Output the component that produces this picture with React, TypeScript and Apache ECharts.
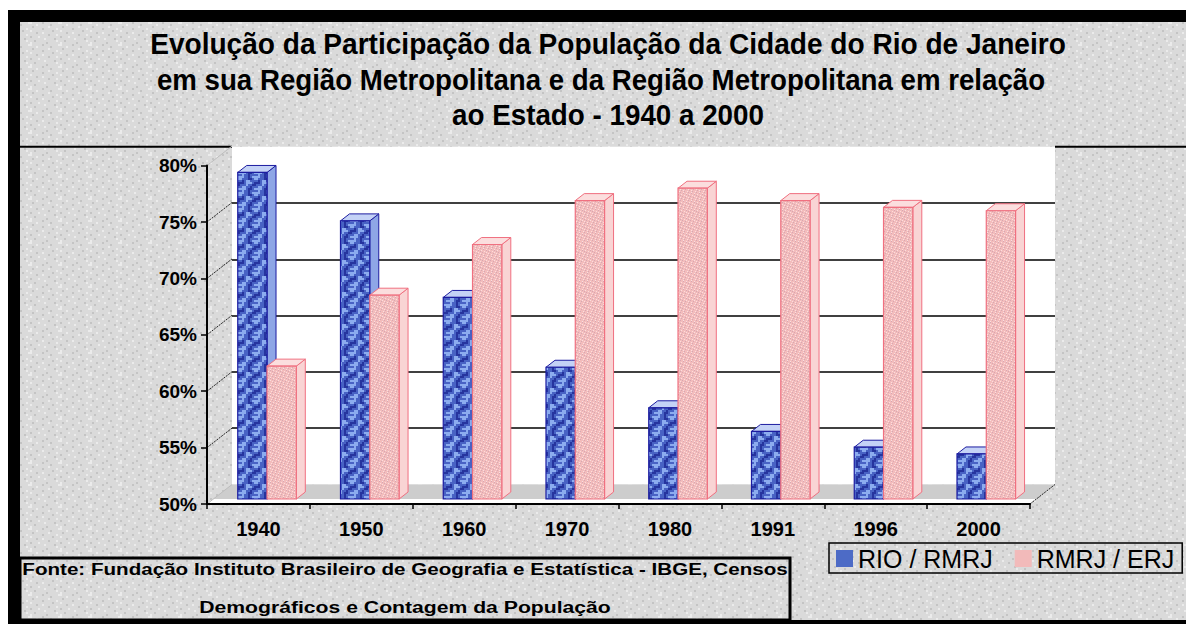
import React, { useEffect, useRef } from "react";
import * as echarts from "echarts";

// ---- data ----
const years = ["1940", "1950", "1960", "1970", "1980", "1991", "1996", "2000"];
const rioRmrj = [79.0, 74.7, 67.9, 61.7, 58.1, 56.0, 54.6, 54.0];
const rmrjErj = [61.8, 68.1, 72.6, 76.5, 77.6, 76.5, 75.9, 75.6];
const seriesNames = ["RIO / RMRJ", "RMRJ / ERJ"];
const yMin = 50;
const yMax = 80;
const yStep = 5;
const titleLines = [
  "Evolução da Participação da População da Cidade do Rio de Janeiro",
  "em sua Região Metropolitana e da Região Metropolitana em relação",
  "ao Estado - 1940 a 2000",
];
const sourceLines = [
  "Fonte: Fundação Instituto Brasileiro de Geografia e Estatística - IBGE, Censos",
  "Demográficos e Contagem da População",
];

const FAMILY = '"Liberation Sans", Arial, sans-serif';

// fixed hand-drawn texture tiles (decoration only)
const BLUE_TILE = [
  "LL..D.LL",
  "L...DD.L",
  ".D.LL...",
  "DD.LLL.D",
  "...L..DD",
  ".LL..D..",
  "LLL.DD.L",
  ".L..D...",
];
const PINK_TILE = [
  "G..W....",
  "...G..W.",
  ".W....G.",
  "G...W...",
  "..G...W.",
  "W....G..",
  ".G.W....",
  "....G..W",
];
const BG_TILE = [
  "W.....D.......W",
  "...W......D....",
  ".D.......W.....",
  "......D......W.",
  "W..........D...",
  "...D..W........",
  ".........D...W.",
  "D...W..........",
  ".......W....D..",
  "..D..........W.",
  "W.......D......",
];

function makeTile(rows: string[], colors: Record<string, string>, cell: number) {
  const h = rows.length;
  const w = rows[0].length;
  const c = document.createElement("canvas");
  c.width = w * cell;
  c.height = h * cell;
  const ctx = c.getContext("2d");
  if (!ctx) return null;
  for (let r = 0; r < h; r++) {
    for (let q = 0; q < w; q++) {
      ctx.fillStyle = colors[rows[r][q]] || colors["."];
      ctx.fillRect(q * cell, r * cell, cell, cell);
    }
  }
  return { image: c.toDataURL(), repeat: "repeat", imageWidth: c.width, imageHeight: c.height };
}

function measure(text: string, font: string): number {
  const c = document.createElement("canvas");
  const ctx = c.getContext("2d");
  if (!ctx) return 0;
  ctx.font = font;
  return ctx.measureText(text).width;
}

function fitText(
  text: string,
  size: number,
  weight: string,
  target: number,
  x: number,
  y: number,
  align: string
) {
  const w = measure(text, `${weight} ${size}px "Liberation Sans"`);
  const s = w > 0 ? target / w : 1;
  return {
    type: "text",
    x,
    y,
    scaleX: s,
    z: 5,
    style: {
      text,
      fontSize: size,
      fontWeight: weight,
      fontFamily: FAMILY,
      fill: "#000",
      textAlign: align,
      textVerticalAlign: "middle",
      align,
      verticalAlign: "middle",
    },
  };
}

// geometry of the pseudo-3D frame
const FRONT = { left: 207, right: 1030, top: 165.6, bottom: 504 };
const BACK = { left: 232, right: 1055, top: 146.7, bottom: 484.5 };
const PLANE = { left: 217.5, right: 1039.5, top: 161.2, bottom: 499 };
const W = 1186;
const H = 624;

export default function App() {
  const ref = useRef<HTMLDivElement>(null);
  useEffect(() => {
    if (!ref.current) return;
    const chart = echarts.init(ref.current, null, { renderer: "svg" });

    const bluePat =
      makeTile(BLUE_TILE, { ".": "#4862c4", L: "#8cacef", D: "#26349e" }, 2) || "#4d6bc6";
    const pinkPat =
      makeTile(PINK_TILE, { ".": "#f3bcbc", G: "#d6a8b2", W: "#fcdede" }, 1) || "#f2baba";
    const bgPat =
      makeTile(BG_TILE, { ".": "#dadada", W: "#ebebeb", D: "#c4c4c4" }, 2) || "#d9d9d9";

    const styles = [
      { front: bluePat, top: "#c4d2f6", side: "#8ea6e6", edge: "#1c1ca0" },
      { front: pinkPat, top: "#fbdede", side: "#f9d4d4", edge: "#f07080" },
    ];

    const makeRender = (si: number) => (params: any, api: any) => {
      const ci = api.value(0);
      const v = api.value(1);
      const topPt = api.coord([ci, v]);
      const basePt = api.coord([ci, yMin]);
      const band = api.size([1, 0])[0];
      const bw = band * 0.285;
      const x0 = topPt[0] + band * (si === 0 ? -0.303 : -0.018);
      const x1 = x0 + bw;
      const yt = topPt[1];
      const yb = basePt[1];
      const dx = 9;
      const dy = -7;
      const st = styles[si];
      return {
        type: "group",
        children: [
          {
            type: "polygon",
            shape: { points: [[x1, yb], [x1 + dx, yb + dy], [x1 + dx, yt + dy], [x1, yt]] },
            style: { fill: st.side, stroke: st.edge, lineWidth: 1 },
          },
          {
            type: "polygon",
            shape: { points: [[x0, yt], [x1, yt], [x1 + dx, yt + dy], [x0 + dx, yt + dy]] },
            style: { fill: st.top, stroke: st.edge, lineWidth: 1 },
          },
          {
            type: "rect",
            shape: { x: x0, y: yt, width: bw, height: yb - yt },
            style: { fill: st.front, stroke: st.edge, lineWidth: 1.2 },
          },
        ],
      };
    };

    const ticks: number[] = [];
    for (let t = yMin; t <= yMax; t += yStep) ticks.push(t);
    const frontScale = (FRONT.bottom - FRONT.top) / (yMax - yMin);
    const ddx = BACK.left - FRONT.left;
    const ddy = BACK.bottom - FRONT.bottom;

    const connectors = ticks.map((t) => {
      const yF = FRONT.bottom - (t - yMin) * frontScale;
      const edge = t === yMin || t === yMax;
      return {
        type: "line",
        z: 1,
        shape: { x1: FRONT.left, y1: yF, x2: FRONT.left + ddx, y2: yF + ddy },
        style: { stroke: edge ? "#bdbdbd" : "#222", lineWidth: 1, lineDash: edge ? null : [2, 1] },
      };
    });

    const graphics: any[] = [
      { type: "rect", z: -10, shape: { x: 0, y: 0, width: W, height: H }, style: { fill: bgPat } },
      { type: "rect", z: 0, shape: { x: 0, y: 0, width: W, height: 10 }, style: { fill: "#fff" } },
      { type: "rect", z: 0, shape: { x: 0, y: 0, width: 8, height: H }, style: { fill: "#fff" } },
      { type: "rect", z: 0, shape: { x: 8, y: 10, width: W - 8, height: 12 }, style: { fill: "#000" } },
      { type: "rect", z: 0, shape: { x: 8, y: 10, width: 12, height: H - 10 }, style: { fill: "#000" } },
      { type: "rect", z: 0, shape: { x: 8, y: 620, width: W - 8, height: 4 }, style: { fill: "#000" } },
      // title box bottom line
      { type: "line", z: 0, shape: { x1: 20, y1: 146.7, x2: BACK.left, y2: 146.7 }, style: { stroke: "#000", lineWidth: 2 } },
      { type: "line", z: 0, shape: { x1: BACK.right, y1: 146.7, x2: W, y2: 146.7 }, style: { stroke: "#000", lineWidth: 2 } },
      // floor
      {
        type: "polygon",
        z: 1,
        shape: {
          points: [
            [BACK.left, BACK.bottom],
            [BACK.right, BACK.bottom],
            [FRONT.right + 6, PLANE.bottom],
            [FRONT.left + 6, PLANE.bottom],
          ],
        },
        style: { fill: "#cdcdcd" },
      },
      {
        type: "polygon",
        z: 1,
        shape: {
          points: [
            [FRONT.left + 6, PLANE.bottom],
            [FRONT.right + 6, PLANE.bottom],
            [FRONT.right, FRONT.bottom - 1],
            [FRONT.left, FRONT.bottom - 1],
          ],
        },
        style: { fill: "#fff" },
      },
      {
        type: "line",
        z: 1,
        shape: { x1: FRONT.right, y1: FRONT.bottom, x2: BACK.right, y2: BACK.bottom },
        style: { stroke: "#222", lineWidth: 1, lineDash: [2, 1] },
      },
      ...connectors,
      // source box
      {
        type: "rect",
        z: 4,
        shape: { x: 20, y: 558, width: 770, height: 62 },
        style: { fill: "none", stroke: "#000", lineWidth: 3 },
      },
      fitText(titleLines[0], 30, "bold", 916, 608, 44, "center"),
      fitText(titleLines[1], 30, "bold", 888, 601, 79.5, "center"),
      fitText(titleLines[2], 30, "bold", 312, 608, 114.5, "center"),
      fitText(sourceLines[0], 17, "bold", 766, 405, 569, "center"),
      fitText(sourceLines[1], 17, "bold", 412, 405, 607, "center"),
    ];

    const option: any = {
      animation: false,
      backgroundColor: "#d9d9d9",
      textStyle: { fontFamily: FAMILY },
      legend: {
        left: 829,
        top: 543,
        orient: "horizontal",
        data: seriesNames,
        icon: "rect",
        itemWidth: 17,
        itemHeight: 17,
        itemGap: 22,
        borderColor: "#000",
        borderWidth: 1.5,
        padding: [3, 8, 2, 7],
        selectedMode: false,
        textStyle: { fontSize: 25, color: "#000", fontFamily: FAMILY },
      },
      grid: [
        {
          left: BACK.left,
          right: W - BACK.right,
          top: BACK.top,
          bottom: H - BACK.bottom,
          show: true,
          backgroundColor: "#ffffff",
          borderWidth: 0,
        },
        {
          left: PLANE.left,
          right: W - PLANE.right,
          top: PLANE.top,
          bottom: H - PLANE.bottom,
        },
        {
          left: FRONT.left,
          right: W - FRONT.right,
          top: FRONT.top,
          bottom: H - FRONT.bottom,
        },
      ],
      xAxis: [
        { gridIndex: 0, type: "category", data: years, show: false },
        { gridIndex: 1, type: "category", data: years, show: false },
        {
          gridIndex: 2,
          type: "category",
          data: years,
          z: 3,
          axisLine: { show: true, lineStyle: { color: "#000", width: 2 } },
          axisTick: { show: true, length: 5, lineStyle: { color: "#000", width: 1.5 } },
          axisLabel: {
            fontSize: 20,
            fontWeight: "bold",
            color: "#000",
            margin: 15,
            fontFamily: FAMILY,
          },
          splitLine: { show: false },
        },
      ],
      yAxis: [
        {
          gridIndex: 0,
          type: "value",
          min: yMin,
          max: yMax,
          interval: yStep,
          axisLine: { show: false },
          axisTick: { show: false },
          axisLabel: { show: false },
          splitLine: {
            show: true,
            showMinLine: false,
            showMaxLine: false,
            lineStyle: { color: "#000", width: 1.5 },
          },
        },
        { gridIndex: 1, type: "value", min: yMin, max: yMax, interval: yStep, show: false, splitLine: { show: false } },
        {
          gridIndex: 2,
          type: "value",
          min: yMin,
          max: yMax,
          interval: yStep,
          z: 3,
          axisLine: { show: true, lineStyle: { color: "#000", width: 2 } },
          axisTick: { show: true, length: 6, lineStyle: { color: "#000", width: 1.5 } },
          axisLabel: {
            formatter: "{value}%",
            fontSize: 19,
            fontWeight: "bold",
            color: "#000",
            margin: 10,
            fontFamily: FAMILY,
          },
          splitLine: { show: false },
        },
      ],
      series: [
        {
          name: seriesNames[0],
          type: "custom",
          xAxisIndex: 1,
          yAxisIndex: 1,
          z: 2,
          itemStyle: { color: "#4d6bc6", borderColor: styles[0].edge },
          encode: { x: 0, y: 1 },
          data: years.map((_, i) => [i, rioRmrj[i]]),
          renderItem: makeRender(0),
        },
        {
          name: seriesNames[1],
          type: "custom",
          xAxisIndex: 1,
          yAxisIndex: 1,
          z: 2,
          itemStyle: { color: "#f2baba", borderColor: "#f3c4c4" },
          encode: { x: 0, y: 1 },
          data: years.map((_, i) => [i, rmrjErj[i]]),
          renderItem: makeRender(1),
        },
      ],
      graphic: { elements: graphics },
    };

    chart.setOption(option);
    return () => chart.dispose();
  }, []);

  return (
    <div
      ref={ref}
      style={{ position: "fixed", left: 0, top: 0, width: W, height: H }}
    />
  );
}
